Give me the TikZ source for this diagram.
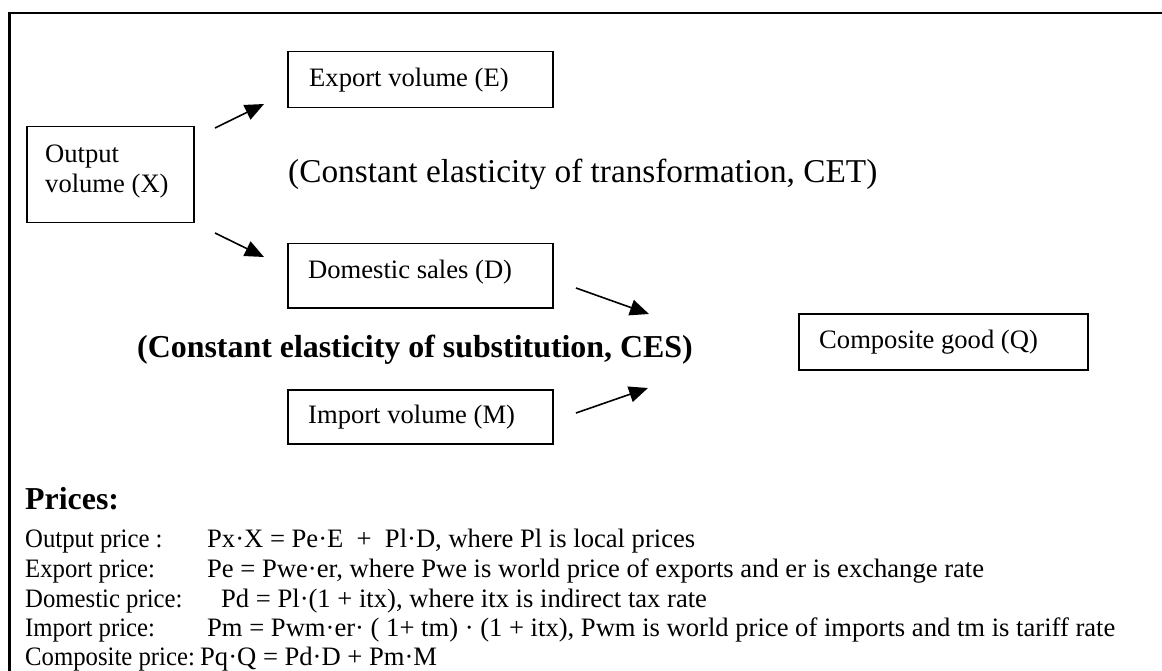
\documentclass[tikz,border=0pt]{standalone}
\usepackage{fontspec}
\setmainfont{Liberation Serif}
\usetikzlibrary{arrows.meta}
\newcommand{\narrowlab}[1]{\scalebox{0.93}[1]{#1}}
\begin{document}
\begin{tikzpicture}[x=1pt,y=-1pt,
  box/.style={draw, line width=1.5pt, anchor=north west, inner sep=0pt},
  txt/.style={anchor=base west, inner sep=0pt, font=\fontsize{26.6}{30.6}\selectfont},
  lab/.style={anchor=base west, inner sep=0pt, font=\fontsize{26.6}{30.6}\selectfont},
  big/.style={anchor=base west, inner sep=0pt, font=\fontsize{33.3}{38}\selectfont},
  bigb/.style={anchor=base west, inner sep=0pt, font=\fontsize{31.9}{36}\selectfont\bfseries},
  arr/.style={-{Triangle[length=19pt,width=16pt]}, line width=1.6pt},
  frame/.style={line width=2.4pt}]
\useasboundingbox (0,0) rectangle (1162,671);
\clip (0,0) rectangle (1162,671);
\draw[frame] (9.5,690) -- (9.5,13) -- (1180,13);

% boxes
\node[box, minimum width=167pt, minimum height=96pt] (X) at (26,126) {};
\node[box, minimum width=265pt, minimum height=56pt] (E) at (287,51) {};
\node[box, minimum width=265pt, minimum height=64pt] (D) at (287,243) {};
\node[box, minimum width=265pt, minimum height=54pt] (M) at (287,389) {};
\node[box, minimum width=289pt, minimum height=56pt] (Q) at (798,313) {};

% box texts
\node[txt] (Xt1) at (45,163) {Output};
\node[txt] (Xt2) at (45,193) {volume (X)};
\node[txt] (Et) at (309,87) {Export volume (E)};
\node[txt] (Dt) at (308,278) {Domestic sales (D)};
\node[txt] (Mt) at (308,423) {Import volume (M)};
\node[txt] (Qt) at (819,348) {Composite good (Q)};

% free labels
\node[big] (cet) at (288,183) {(Constant elasticity of transformation, CET)};
\node[bigb] (ces) at (137,357) {(Constant elasticity of substitution, CES)};

% arrows
\coordinate (a1s) at (215,128); \coordinate (a1e) at (264,104);
\coordinate (a2s) at (215,233); \coordinate (a2e) at (264,257);
\coordinate (a3s) at (576,288); \coordinate (a3e) at (649,314);
\coordinate (a4s) at (576,413); \coordinate (a4e) at (648,388);
\draw[arr] (a1s) -- (a1e);
\draw[arr] (a2s) -- (a2e);
\draw[arr] (a3s) -- (a3e);
\draw[arr] (a4s) -- (a4e);

% prices
\node[bigb] (pr) at (25,509) {Prices:};
\node[lab] (l1) at (25,547) {\narrowlab{Output price :}};
\node[txt] (f1) at (207,547) {Px·X = Pe·E\ \ +\ \ Pl·D, where Pl is local prices};
\node[lab] (l2) at (25,577) {\narrowlab{Export price:}};
\node[txt] (f2) at (207,577) {Pe = Pwe·er, where Pwe is world price of exports and er is exchange rate};
\node[lab] (l3) at (25,607) {\narrowlab{Domestic price:}};
\node[txt] (f3) at (221,607) {Pd = Pl·(1 + itx), where itx is indirect tax rate};
\node[lab] (l4) at (25,636) {\narrowlab{Import price:}};
\node[txt] (f4) at (207,636) {Pm = Pwm·er· ( 1+ tm) · (1 + itx), Pwm is world price of imports and tm is tariff rate};
\node[lab] (l5) at (25,665) {\narrowlab{Composite price:}};
\node[txt] (f5) at (200,665) {Pq·Q = Pd·D + Pm·M};
\end{tikzpicture}
\end{document}
